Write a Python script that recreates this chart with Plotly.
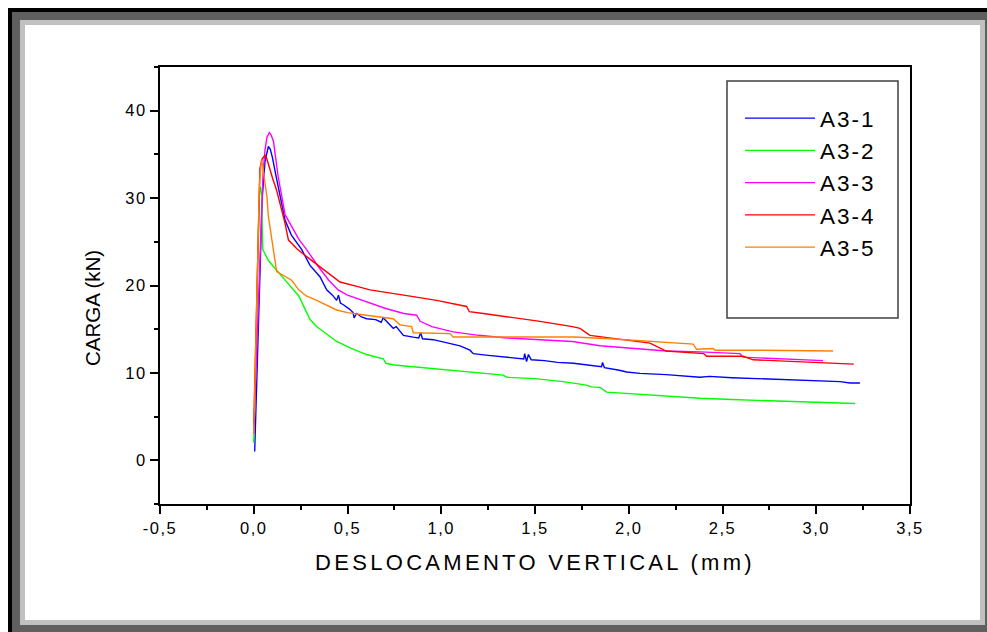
import plotly.graph_objects as go

# ---- data: load (kN) vs vertical displacement (mm) for specimens A3-1 .. A3-5 ----
names = ["A3-1", "A3-2", "A3-3", "A3-4", "A3-5"]
colors = ["#0000ff", "#00ff00", "#ff00ff", "#ff0000", "#ff8000"]

a31_x = [0.005, 0.015, 0.03, 0.045, 0.06, 0.07, 0.078, 0.088, 0.1, 0.12, 0.14, 0.167, 0.2, 0.256,
         0.3, 0.353, 0.389, 0.42, 0.442, 0.452, 0.462, 0.478, 0.51, 0.53, 0.535, 0.549, 0.575,
         0.602, 0.65, 0.68, 0.69, 0.709, 0.744, 0.76, 0.798, 0.85, 0.88, 0.89, 0.9, 0.958, 1.0,
         1.05, 1.1, 1.153, 1.171, 1.25, 1.35, 1.44, 1.445, 1.455, 1.465, 1.48, 1.55, 1.62, 1.705,
         1.8, 1.855, 1.86, 1.87, 1.95, 1.989, 2.06, 2.2, 2.38, 2.43, 2.55, 2.736, 2.9, 3.0, 3.127,
         3.18, 3.233]
a31_y = [1.0, 9.0, 21.0, 30.0, 34.2, 35.4, 35.9, 35.6, 34.6, 32.4, 30.2, 27.5, 25.8, 24.1,
         22.3, 21.0, 19.5, 18.9, 18.3, 18.9, 18.0, 17.8, 17.3, 16.9, 16.3, 16.8, 16.4,
         16.2, 16.1, 15.8, 16.3, 15.9, 15.1, 15.3, 14.3, 14.1, 14.0, 14.6, 13.9, 13.8, 13.6,
         13.4, 13.1, 12.6, 12.2, 12.0, 11.8, 11.6, 12.2, 11.3, 12.1, 11.5, 11.4, 11.2, 11.1,
         10.9, 10.7, 11.2, 10.6, 10.3, 10.1, 9.95, 9.8, 9.5, 9.6, 9.45, 9.3, 9.2, 9.1, 9.0,
         8.85, 8.85]

a32_x = [0.0, 0.012, 0.022, 0.03, 0.036, 0.042, 0.046, 0.048, 0.08, 0.122, 0.18, 0.24, 0.27,
         0.3, 0.335, 0.371, 0.442, 0.52, 0.602, 0.691, 0.705, 0.75, 0.85, 0.993, 1.15, 1.331,
         1.349, 1.5, 1.65, 1.775, 1.8, 1.847, 1.882, 2.06, 2.2, 2.38, 2.55, 2.736, 2.95, 3.207]
a32_y = [2.0, 12.0, 24.0, 30.5, 31.3, 30.2, 26.0, 24.1, 22.8, 21.8, 20.3, 18.8, 17.4,
         16.1, 15.3, 14.7, 13.6, 12.8, 12.1, 11.6, 11.1, 10.9, 10.7, 10.4, 10.1, 9.75,
         9.5, 9.35, 9.0, 8.6, 8.4, 8.35, 7.8, 7.55, 7.3, 7.1, 6.95, 6.8, 6.65, 6.5]

a33_x = [0.0, 0.015, 0.035, 0.05, 0.06, 0.07, 0.083, 0.093, 0.105, 0.13, 0.167, 0.2, 0.24,
         0.282, 0.343, 0.4, 0.45, 0.5, 0.583, 0.7, 0.8, 0.869, 0.887, 0.95, 1.063, 1.2, 1.349,
         1.5, 1.7, 1.847, 2.06, 2.2, 2.38, 2.593, 2.61, 2.8, 3.036]
a33_y = [3.0, 12.0, 25.0, 33.0, 35.5, 36.9, 37.5, 37.2, 36.5, 32.5, 28.1, 26.8, 25.3,
         24.1, 22.2, 20.6, 19.5, 18.9, 18.3, 17.4, 16.8, 16.6, 15.9, 15.3, 14.7, 14.3, 14.0,
         13.8, 13.6, 13.1, 12.7, 12.5, 12.4, 12.2, 11.8, 11.6, 11.4]

a34_x = [0.0, 0.012, 0.025, 0.033, 0.045, 0.06, 0.068, 0.078, 0.1, 0.122, 0.145, 0.167, 0.185,
         0.23, 0.282, 0.371, 0.46, 0.55, 0.62, 0.8, 0.975, 1.135, 1.15, 1.224, 1.4, 1.527, 1.7,
         1.74, 1.793, 1.95, 2.113, 2.2, 2.4, 2.415, 2.61, 2.664, 2.9, 3.2]
a34_y = [4.0, 14.0, 27.0, 33.4, 34.5, 34.9, 34.6, 33.8, 32.3, 30.9, 29.0, 27.1, 25.2,
         24.2, 23.3, 21.8, 20.4, 19.9, 19.5, 18.9, 18.3, 17.6, 17.0, 16.8, 16.3, 15.9, 15.3,
         15.1, 14.3, 13.9, 13.4, 12.5, 12.2, 11.9, 11.9, 11.5, 11.3, 11.0]

a35_x = [0.0, 0.012, 0.022, 0.03, 0.04, 0.048, 0.055, 0.07, 0.078, 0.1, 0.122, 0.202, 0.24,
         0.28, 0.336, 0.442, 0.5, 0.6, 0.744, 0.78, 0.842, 0.851, 1.047, 1.064, 1.3, 1.705,
         1.9, 2.06, 2.344, 2.362, 2.45, 2.46, 2.7, 3.09]
a35_y = [3.0, 14.0, 25.0, 31.5, 34.3, 33.8, 32.5, 30.2, 27.9, 24.5, 21.6, 20.6, 19.5,
         18.8, 18.3, 17.2, 16.9, 16.6, 16.2, 15.5, 15.3, 14.6, 14.5, 14.1, 14.1, 14.1,
         13.9, 13.7, 13.3, 12.7, 12.8, 12.6, 12.6, 12.5]

series_x = [a31_x, a32_x, a33_x, a34_x, a35_x]
series_y = [a31_y, a32_y, a33_y, a34_y, a35_y]

x_tick_vals = [-0.5, 0.0, 0.5, 1.0, 1.5, 2.0, 2.5, 3.0, 3.5]
x_tick_text = ["-0,5", "0,0", "0,5", "1,0", "1,5", "2,0", "2,5", "3,0", "3,5"]
y_tick_vals = [0, 10, 20, 30, 40]
y_tick_text = ["0", "10", "20", "30", "40"]

# ---- page geometry (pixels) ----
W, H = 987, 632
ML, MR, MT, MB = 160, 77, 67, 128
PW = W - ML - MR
PH = H - MT - MB


def px_x(p):
    return (p - ML) / PW


def px_y(p):
    return (H - MB - p) / PH


def rect(x0, y0, x1, y1, fill, layer="below", line=None):
    d = dict(type="rect", xref="paper", yref="paper",
             x0=px_x(x0), x1=px_x(x1), y0=px_y(y1), y1=px_y(y0),
             fillcolor=fill, layer=layer)
    d["line"] = line if line else dict(width=0)
    return d


FONT = "Liberation Sans, Arial, sans-serif"

fig = go.Figure()
for nm, c, xs, ys in zip(names, colors, series_x, series_y):
    fig.add_trace(go.Scatter(x=xs, y=ys, mode="lines", name=nm,
                             line=dict(color=c, width=1.4)))

# bevelled outer frame and the legend box
shapes = [
    rect(8, 8, 987, 632, "#000000"),
    rect(12, 12, 987, 632, "#5f5f5f"),
    rect(20, 20, 985, 625, "#c0c0c0"),
    rect(25, 25, 980, 620, "#ffffff"),
    rect(727, 81, 898, 318, "rgba(0,0,0,0)", layer="above",
         line=dict(color="#404040", width=1.5)),
]

axis_common = dict(
    showline=True, linecolor="black", linewidth=2, mirror=True,
    ticks="outside", ticklen=8, tickwidth=1.5, tickcolor="black",
    showgrid=False, zeroline=False,
    tickfont=dict(family=FONT, size=16.5, color="black"),
)

fig.update_layout(
    width=W, height=H,
    margin=dict(l=ML, r=MR, t=MT, b=MB, pad=0),
    paper_bgcolor="white", plot_bgcolor="rgba(0,0,0,0)",
    font=dict(family=FONT, color="black"),
    shapes=shapes,
    showlegend=True,
    legend=dict(x=px_x(740), y=px_y(97), xanchor="left", yanchor="top",
                bgcolor="rgba(0,0,0,0)", borderwidth=0,
                font=dict(family=FONT, size=22.5, color="black"),
                itemwidth=70, tracegroupgap=0),
    xaxis=dict(range=[-0.5, 3.5], tickvals=x_tick_vals, ticktext=x_tick_text,
               minor=dict(dtick=0.25, tick0=-0.5, ticks="outside", ticklen=4,
                          tickwidth=1.5, tickcolor="black"),
               title=dict(text="DESLOCAMENTO VERTICAL (mm)",
                          font=dict(family=FONT, size=22), standoff=19),
               **axis_common),
    yaxis=dict(range=[-5, 45], tickvals=y_tick_vals, ticktext=y_tick_text,
               minor=dict(dtick=5, tick0=-5, ticks="outside", ticklen=4,
                          tickwidth=1.5, tickcolor="black"),
               **axis_common),
    annotations=[dict(text="CARGA (kN)", textangle=-90, showarrow=False,
                      xref="paper", yref="paper", x=px_x(92), y=px_y(308),
                      xanchor="center", yanchor="middle",
                      font=dict(family=FONT, size=20.5, color="black"))],
)

spacing_js = """
var gd = document.getElementById('{plot_id}');
function spaceText() {
  gd.querySelectorAll('.xtitle').forEach(function (e) { e.style.letterSpacing = '3.3px'; });
  gd.querySelectorAll('.legendtext').forEach(function (e) { e.style.letterSpacing = '2px'; });
  gd.querySelectorAll('.xtick text, .ytick text').forEach(function (e) { e.style.letterSpacing = '1.5px'; });
}
spaceText();
gd.on('plotly_afterplot', spaceText);
"""

fig.write_html("out.html", post_script=spacing_js)
